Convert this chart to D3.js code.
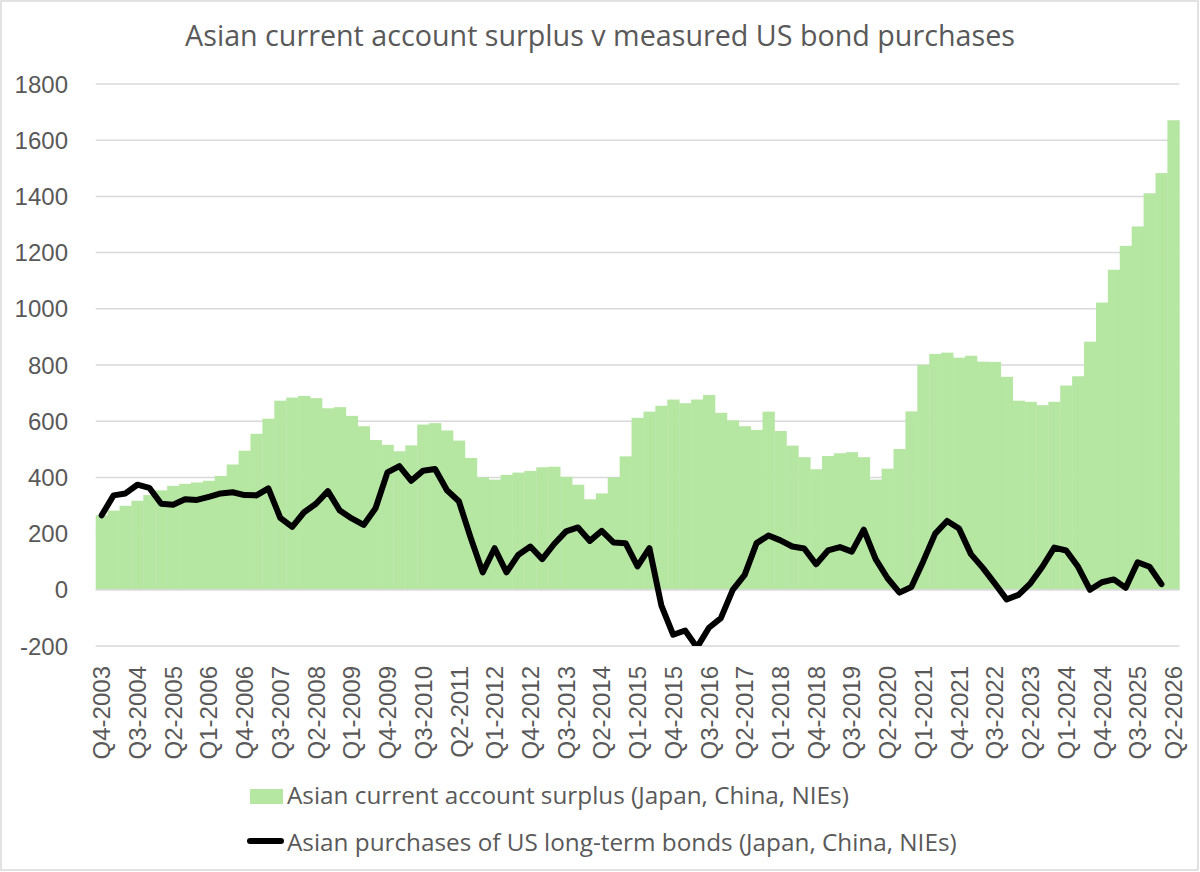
<!DOCTYPE html>
<html>
<head>
<meta charset="utf-8">
<script src="https://cdn.jsdelivr.net/npm/d3@7"></script>
<style>
  html, body { margin: 0; padding: 0; background: #fff; }
  svg { display: block; font-family: "Liberation Sans", Arial, sans-serif; }
</style>
</head>
<body>
<svg id="chart" width="1200" height="872"></svg>
<script>
// ---- Data ----
const quarters = [
  "Q4-2003",
  "Q1-2004","Q2-2004","Q3-2004","Q4-2004",
  "Q1-2005","Q2-2005","Q3-2005","Q4-2005",
  "Q1-2006","Q2-2006","Q3-2006","Q4-2006",
  "Q1-2007","Q2-2007","Q3-2007","Q4-2007",
  "Q1-2008","Q2-2008","Q3-2008","Q4-2008",
  "Q1-2009","Q2-2009","Q3-2009","Q4-2009",
  "Q1-2010","Q2-2010","Q3-2010","Q4-2010",
  "Q1-2011","Q2-2011","Q3-2011","Q4-2011",
  "Q1-2012","Q2-2012","Q3-2012","Q4-2012",
  "Q1-2013","Q2-2013","Q3-2013","Q4-2013",
  "Q1-2014","Q2-2014","Q3-2014","Q4-2014",
  "Q1-2015","Q2-2015","Q3-2015","Q4-2015",
  "Q1-2016","Q2-2016","Q3-2016","Q4-2016",
  "Q1-2017","Q2-2017","Q3-2017","Q4-2017",
  "Q1-2018","Q2-2018","Q3-2018","Q4-2018",
  "Q1-2019","Q2-2019","Q3-2019","Q4-2019",
  "Q1-2020","Q2-2020","Q3-2020","Q4-2020",
  "Q1-2021","Q2-2021","Q3-2021","Q4-2021",
  "Q1-2022","Q2-2022","Q3-2022","Q4-2022",
  "Q1-2023","Q2-2023","Q3-2023","Q4-2023",
  "Q1-2024","Q2-2024","Q3-2024","Q4-2024",
  "Q1-2025","Q2-2025","Q3-2025","Q4-2025",
  "Q1-2026","Q2-2026"
];

const surplus = [
  265,282,299,317,337,354,370,377,382,388,
  405,446,495,555,609,673,684,690,682,646,
  650,619,582,533,516,493,514,588,593,567,
  531,469,400,392,409,417,423,436,438,402,
  374,322,343,400,475,612,634,655,677,664,
  677,693,630,603,582,569,634,565,513,472,
  429,476,486,490,472,392,431,501,635,801,
  839,844,826,833,812,811,758,673,669,657,
  669,727,760,883,1022,1139,1224,1293,1411,1483,
  1671
];

const bondPurchases = [
  265,336,343,374,363,306,303,322,320,331,
  343,347,337,336,361,256,224,276,306,351,
  282,254,231,290,418,440,388,424,430,354,
  315,184,62,148,62,125,154,109,163,208,
  222,174,210,168,166,83,148,-55,-160,-145,
  -205,-135,-101,0,53,166,193,176,154,147,
  91,140,152,136,214,109,41,-10,10,102,
  200,245,218,127,78,23,-34,-18,23,82,
  150,140,82,0,27,37,7,98,82,20,
  null
];

const tickLabels = [
  "Q4-2003","Q3-2004","Q2-2005","Q1-2006","Q4-2006","Q3-2007","Q2-2008","Q1-2009",
  "Q4-2009","Q3-2010","Q2-2011","Q1-2012","Q4-2012","Q3-2013","Q2-2014","Q1-2015",
  "Q4-2015","Q3-2016","Q2-2017","Q1-2018","Q4-2018","Q3-2019","Q2-2020","Q1-2021",
  "Q4-2021","Q3-2022","Q2-2023","Q1-2024","Q4-2024","Q3-2025","Q2-2026"
];
const yTicks = [-200, 0, 200, 400, 600, 800, 1000, 1200, 1400, 1600, 1800];

const titleText = "Asian current account surplus v measured US bond purchases";
const seriesNames = [
  "Asian current account surplus (Japan, China, NIEs)",
  "Asian purchases of US long-term bonds (Japan, China, NIEs)"
];

// ---- Layout ----
const W = 1200, H = 872;
const plot = { left: 95.7, right: 1179.3, top: 84, bottom: 646 };
const textColor = "#595959";
const gridColor = "#d9d9d9";
const barColor = "#b5e6a2";
const wideFont = "'Open Sans', 'Liberation Sans', Arial, sans-serif";

const svg = d3.select("#chart");

// chart border
svg.append("rect")
  .attr("x", 1).attr("y", 1).attr("width", W - 3).attr("height", H - 3)
  .attr("fill", "#fff").attr("stroke", gridColor).attr("stroke-width", 1.5);

const x = d3.scaleBand().domain(quarters).range([plot.left, plot.right]).padding(0);
const y = d3.scaleLinear().domain([-200, 1800]).range([plot.bottom, plot.top]);

// gridlines
svg.append("g").selectAll("line").data(yTicks).join("line")
  .attr("x1", plot.left).attr("x2", plot.right)
  .attr("y1", d => y(d)).attr("y2", d => y(d))
  .attr("stroke", gridColor).attr("stroke-width", 1.5);

// y tick labels
svg.append("g").selectAll("text").data(yTicks).join("text")
  .attr("x", 68).attr("y", d => y(d)).attr("dy", "0.36em")
  .attr("text-anchor", "end")
  .attr("font-size", 24).attr("fill", textColor)
  .text(d => d);

// bars (columns with no gap)
const data = quarters.map((q, i) => ({ q, s: surplus[i], b: bondPurchases[i] }));
svg.append("g").selectAll("rect").data(data).join("rect")
  .attr("x", d => x(d.q))
  .attr("width", x.bandwidth() + 0.4)
  .attr("y", d => Math.min(y(d.s), y(0)))
  .attr("height", d => Math.abs(y(0) - y(d.s)))
  .attr("fill", barColor);

// zero line on top of bars
svg.append("line")
  .attr("x1", plot.left).attr("x2", plot.right)
  .attr("y1", y(0)).attr("y2", y(0))
  .attr("stroke", gridColor).attr("stroke-width", 1.5);

// clip for line
svg.append("clipPath").attr("id", "plotClip").append("rect")
  .attr("x", plot.left - 10).attr("y", plot.top)
  .attr("width", plot.right - plot.left + 20).attr("height", plot.bottom - plot.top);

const line = d3.line()
  .defined(d => d.b !== null)
  .x(d => x(d.q) + x.bandwidth() / 2)
  .y(d => y(d.b));

svg.append("path")
  .datum(data)
  .attr("clip-path", "url(#plotClip)")
  .attr("d", line)
  .attr("fill", "none")
  .attr("stroke", "#000")
  .attr("stroke-width", 6)
  .attr("stroke-linejoin", "round")
  .attr("stroke-linecap", "round");

// x tick labels (rotated)
svg.append("g").selectAll("text").data(tickLabels).join("text")
  .attr("transform", d => `translate(${x(d) + x.bandwidth() / 2},${666}) rotate(-90)`)
  .attr("dy", "0.36em")
  .attr("text-anchor", "end")
  .attr("font-size", 24).attr("fill", textColor)
  .text(d => d);

// title
svg.append("text")
  .attr("x", 600).attr("y", 46)
  .attr("text-anchor", "middle")
  .attr("font-family", wideFont)
  .attr("font-size", 28.7).attr("fill", textColor)
  .text(titleText);

// legend
const lg = svg.append("g").attr("font-family", wideFont);
lg.append("rect").attr("x", 250).attr("y", 789).attr("width", 33).attr("height", 15).attr("fill", barColor);
lg.append("text").attr("x", 287).attr("y", 804)
  .attr("font-size", 24.3).attr("fill", textColor).text(seriesNames[0]);
lg.append("line").attr("x1", 250).attr("x2", 281).attr("y1", 841).attr("y2", 841)
  .attr("stroke", "#000").attr("stroke-width", 6).attr("stroke-linecap", "round");
lg.append("text").attr("x", 287).attr("y", 851)
  .attr("font-size", 24.3).attr("fill", textColor).text(seriesNames[1]);
</script>
</body>
</html>
